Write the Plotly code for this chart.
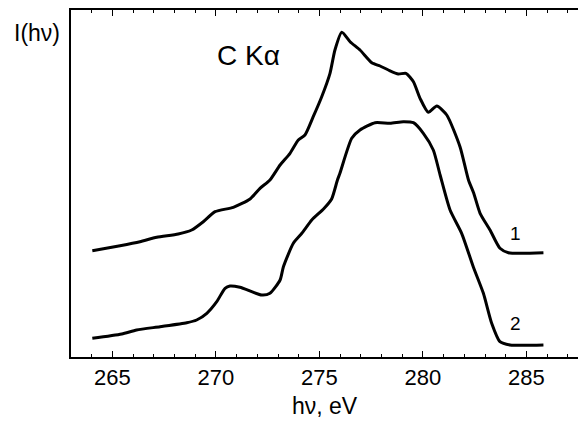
import plotly.graph_objects as go

# Curve 1 (upper spectrum)
energy_1 = [264.03, 265.37, 266.33, 267.14, 268.18, 268.83, 269.39, 269.96, 270.84, 271.65,
            272.13, 272.61, 273.10, 273.58, 273.98, 274.30, 274.70, 275.11, 275.51, 275.75,
            276.08, 276.48, 276.96, 277.53, 277.93, 278.33, 278.81, 279.18, 279.54, 279.86,
            280.26, 280.67, 281.15, 281.79, 282.20, 282.45, 282.76, 283.24, 283.72, 284.13,
            285.82]
intensity_1 = [1.063, 1.113, 1.153, 1.197, 1.230, 1.270, 1.353, 1.453, 1.497, 1.580,
               1.687, 1.770, 1.920, 2.037, 2.170, 2.220, 2.403, 2.603, 2.837, 3.070,
               3.247, 3.153, 3.070, 2.943, 2.910, 2.870, 2.830, 2.837, 2.753, 2.587,
               2.447, 2.510, 2.420, 2.103, 1.770, 1.640, 1.437, 1.270, 1.087, 1.043,
               1.043]

# Curve 2 (lower spectrum)
energy_2 = [264.03, 265.45, 266.17, 267.30, 268.59, 269.07, 269.56, 270.04, 270.44, 270.68,
            271.16, 272.21, 272.61, 273.10, 273.26, 273.74, 274.15, 274.63, 275.22, 275.59,
            275.87, 275.99, 276.56, 276.96, 277.69, 278.41, 279.05, 279.54, 280.02, 280.50,
            280.83, 281.31, 281.87, 282.43, 282.92, 283.32, 283.72, 284.21, 285.82]
intensity_2 = [0.187, 0.230, 0.270, 0.303, 0.343, 0.370, 0.437, 0.553, 0.687, 0.710,
               0.697, 0.620, 0.637, 0.770, 0.903, 1.137, 1.237, 1.370, 1.485, 1.580,
               1.770, 1.837, 2.187, 2.270, 2.343, 2.337, 2.353, 2.343, 2.237, 2.070,
               1.820, 1.470, 1.237, 0.903, 0.637, 0.337, 0.153, 0.120, 0.120]

curve_labels = ["1", "2"]
label_energy = [284.45, 284.45]
label_intensity = [1.24, 0.34]

x_ticks = [265, 270, 275, 280, 285]
x_range = [263, 287.49]

FONT = "Liberation Sans, Arial, sans-serif"

fig = go.Figure()
for e, i in [(energy_1, intensity_1), (energy_2, intensity_2)]:
    fig.add_trace(go.Scatter(x=e, y=i, mode="lines",
                             line=dict(color="black", width=3, shape="spline", smoothing=0.6),
                             showlegend=False, hoverinfo="skip"))
# invisible trace to carry the top axis
fig.add_trace(go.Scatter(x=[energy_1[0]], y=[intensity_1[0]], xaxis="x2", mode="markers",
                         marker=dict(opacity=0), showlegend=False, hoverinfo="skip"))

for t, xe, yi in zip(curve_labels, label_energy, label_intensity):
    fig.add_annotation(x=xe, y=yi, text=t, showarrow=False,
                       font=dict(family=FONT, size=19, color="black"))

fig.add_annotation(x=271.57, y=3.02, text="C Kα", showarrow=False,
                   font=dict(family=FONT, size=28, color="black"))

fig.add_annotation(xref="paper", yref="paper", x=-0.067, y=0.935, text="I(hν)",
                   showarrow=False, xanchor="center", yanchor="middle",
                   font=dict(family=FONT, size=23, color="black"))

tick_style = dict(ticks="inside", ticklen=6, tickwidth=1.2, tickcolor="black",
                  showline=True, linecolor="black", linewidth=2, showgrid=False,
                  zeroline=False, range=x_range, tickvals=x_ticks,
                  minor=dict(dtick=1, tick0=263, ticks="inside", ticklen=3,
                             tickcolor="black", showgrid=False))

fig.update_layout(
    width=578, height=426,
    margin=dict(l=71, r=0, t=10, b=69),
    paper_bgcolor="white", plot_bgcolor="white",
    font=dict(family=FONT, color="black"),
    xaxis=dict(**tick_style, tickfont=dict(size=22, family=FONT),
               title=dict(text="hν, eV", font=dict(size=23, family=FONT), standoff=8)),
    xaxis2=dict(**tick_style, overlaying="x", side="top", showticklabels=False),
    yaxis=dict(range=[0, 3.47], showticklabels=False, ticks="", showline=True,
               linecolor="black", linewidth=2, mirror=False, showgrid=False, zeroline=False),
)

fig.write_html("out.html", post_script="document.body.style.margin='0';",
               config={"displayModeBar": False})
